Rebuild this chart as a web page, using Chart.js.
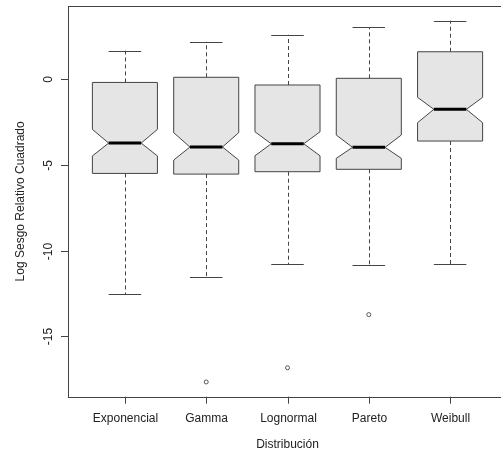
<!DOCTYPE html>
<html>
<head>
<meta charset="utf-8">
<script src="https://cdn.jsdelivr.net/npm/chart.js@4.4.1/dist/chart.umd.min.js"></script>
<style>
  html, body { margin: 0; padding: 0; background: #fff; overflow: hidden; width: 501px; height: 454px; }
  #wrap { width: 501px; height: 454px; overflow: hidden; position: relative; }
  canvas { display: block; }
</style>
</head>
<body>
<div id="wrap"><canvas id="c" width="510" height="454" style="width:510px;height:454px"></canvas></div>
<script>
// Distributions compared
const categories = ['Exponencial', 'Gamma', 'Lognormal', 'Pareto', 'Weibull'];

// Five-number summaries (log squared relative bias)
const whiskerLow  = [-12.53, -11.52, -10.80, -10.83, -10.80];
const quartile1   = [-5.49,  -5.53,  -5.39,  -5.25,  -3.60];
const median      = [-3.72,  -3.95,  -3.76,  -3.97,  -1.75];
const quartile3   = [-0.18,   0.12,  -0.33,   0.06,   1.61];
const whiskerHigh = [ 1.67,   2.19,   2.60,   3.03,   3.42];

// Notch limits around the median
const notchLow  = [-4.47, -4.71, -4.46, -4.61, -2.53];
const notchHigh = [-2.92, -3.11, -3.06, -3.25, -1.05];

// Outlying observations
const outlierCategory = ['Gamma', 'Lognormal', 'Pareto'];
const outlierValue    = [-17.66, -16.83, -13.73];

// Axis ticks and titles
const yTicks = [-15, -10, -5, 0];
const xTitle = 'Distribución';
const yTitle = 'Log Sesgo Relativo Cuadrado';

const FONT = '12px "Liberation Sans", Arial, sans-serif';
const TEXT = '#222';
const LINE = '#444';

const outlierPoints = outlierCategory.map((c, i) => ({ x: categories.indexOf(c) + 1, y: outlierValue[i] }));

const boxplotPlugin = {
  id: 'boxplot',
  beforeDatasetsDraw(chart) {
    const { ctx, chartArea: a, scales: { x, y } } = chart;
    ctx.save();

    // plot frame
    ctx.strokeStyle = LINE;
    ctx.lineWidth = 1;
    ctx.strokeRect(Math.round(a.left) + 0.5, Math.round(a.top) + 0.5,
                   Math.round(a.right - a.left), Math.round(a.bottom - a.top));

    // y axis ticks and rotated labels
    ctx.fillStyle = TEXT;
    ctx.font = FONT;
    yTicks.forEach(v => {
      const py = Math.round(y.getPixelForValue(v)) + 0.5;
      ctx.beginPath();
      ctx.moveTo(a.left - 7, py);
      ctx.lineTo(a.left, py);
      ctx.stroke();
      ctx.save();
      ctx.translate(a.left - 19, py);
      ctx.rotate(-Math.PI / 2);
      ctx.textAlign = 'center';
      ctx.textBaseline = 'middle';
      ctx.fillText(String(v), 0, 0);
      ctx.restore();
    });

    // x axis ticks and category labels
    categories.forEach((c, i) => {
      const px = Math.round(x.getPixelForValue(i + 1)) + 0.5;
      ctx.beginPath();
      ctx.moveTo(px, a.bottom);
      ctx.lineTo(px, a.bottom + 7);
      ctx.stroke();
      ctx.textAlign = 'center';
      ctx.textBaseline = 'middle';
      ctx.fillText(c, px, a.bottom + 22);
    });

    // axis titles
    ctx.textAlign = 'center';
    ctx.textBaseline = 'middle';
    ctx.fillText(xTitle, x.getPixelForValue(3), a.bottom + 48);
    ctx.save();
    ctx.translate(21, (a.top + a.bottom) / 2);
    ctx.rotate(-Math.PI / 2);
    ctx.fillText(yTitle, 0, 0);
    ctx.restore();

    // boxes
    categories.forEach((c, i) => {
      const cx = x.getPixelForValue(i + 1);
      const hw = x.getPixelForValue(i + 1.4) - cx;
      const L = cx - hw, R = cx + hw;
      const yQ3 = y.getPixelForValue(quartile3[i]);
      const yQ1 = y.getPixelForValue(quartile1[i]);
      const yMed = y.getPixelForValue(median[i]);
      const yNH = y.getPixelForValue(notchHigh[i]);
      const yNL = y.getPixelForValue(notchLow[i]);
      const yWH = y.getPixelForValue(whiskerHigh[i]);
      const yWL = y.getPixelForValue(whiskerLow[i]);
      const xc = Math.round(cx) + 0.5;

      // whiskers (dashed)
      ctx.strokeStyle = LINE;
      ctx.lineWidth = 1;
      ctx.setLineDash([4, 3]);
      ctx.beginPath();
      ctx.moveTo(xc, yQ3); ctx.lineTo(xc, yWH);
      ctx.moveTo(xc, yQ1); ctx.lineTo(xc, yWL);
      ctx.stroke();
      ctx.setLineDash([]);

      // staples
      ctx.beginPath();
      const wh = Math.round(yWH) + 0.5, wl = Math.round(yWL) + 0.5;
      ctx.moveTo(cx - hw / 2, wh); ctx.lineTo(cx + hw / 2, wh);
      ctx.moveTo(cx - hw / 2, wl); ctx.lineTo(cx + hw / 2, wl);
      ctx.stroke();

      // notched box
      ctx.beginPath();
      ctx.moveTo(L, yQ3);
      ctx.lineTo(R, yQ3);
      ctx.lineTo(R, yNH);
      ctx.lineTo(R - hw / 2, yMed);
      ctx.lineTo(R, yNL);
      ctx.lineTo(R, yQ1);
      ctx.lineTo(L, yQ1);
      ctx.lineTo(L, yNL);
      ctx.lineTo(L + hw / 2, yMed);
      ctx.lineTo(L, yNH);
      ctx.closePath();
      ctx.fillStyle = '#e5e5e5';
      ctx.fill();
      ctx.stroke();

      // median
      ctx.strokeStyle = '#000';
      ctx.lineWidth = 3;
      ctx.beginPath();
      ctx.moveTo(L + hw / 2, yMed);
      ctx.lineTo(R - hw / 2, yMed);
      ctx.stroke();
      ctx.fillStyle = TEXT;
    });

    ctx.restore();
  }
};

new Chart(document.getElementById('c'), {
  type: 'scatter',
  data: {
    datasets: [{
      label: 'Atípicos',
      data: outlierPoints,
      pointStyle: 'circle',
      pointRadius: 2,
      pointBorderWidth: 1,
      borderColor: '#555',
      backgroundColor: '#fff',
      pointHoverRadius: 2
    }]
  },
  options: {
    responsive: false,
    animation: false,
    devicePixelRatio: 1,
    layout: { padding: { left: 68, top: 6, right: 1.5, bottom: 57.3 } },
    plugins: { legend: { display: false }, tooltip: { enabled: false } },
    scales: {
      x: { type: 'linear', min: 0.3, max: 5.7, display: false },
      y: { type: 'linear', min: -18.52, max: 4.28, display: false }
    }
  },
  plugins: [boxplotPlugin]
});
</script>
</body>
</html>
